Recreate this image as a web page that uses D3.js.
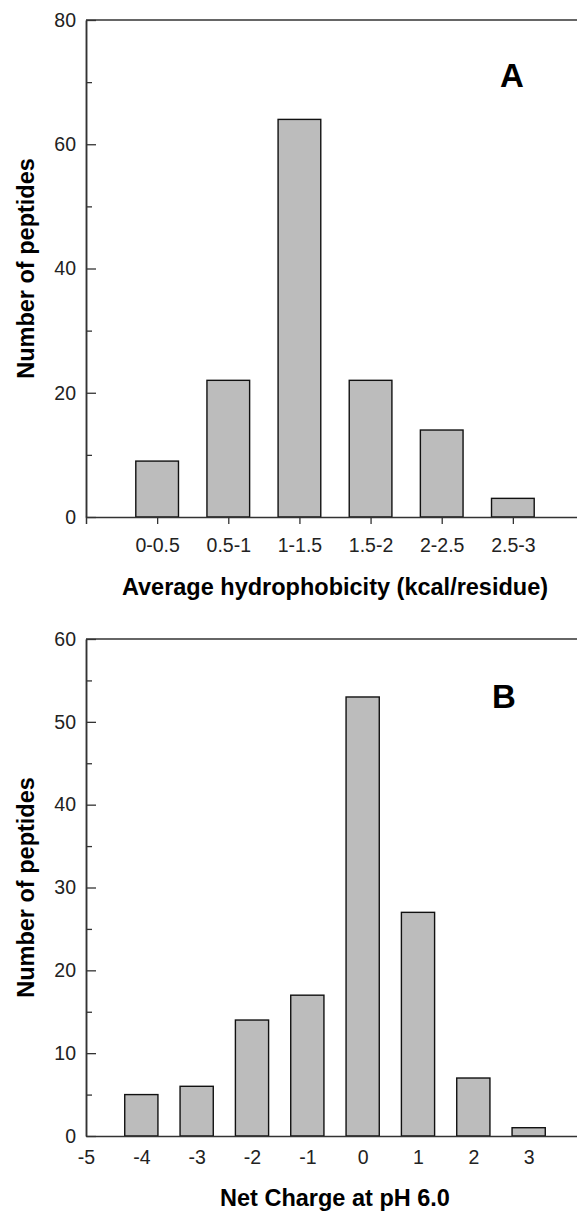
<!DOCTYPE html>
<html>
<head>
<meta charset="utf-8">
<script src="https://cdn.jsdelivr.net/npm/d3@7"></script>
<style>
  body { margin: 0; background: #fff; }
  svg { display: block; font-family: "Liberation Sans", Arial, Helvetica, sans-serif; }
  .domain { stroke: #333; stroke-width: 1.5; }
  .tick line { stroke: #333; stroke-width: 1.3; }
  .tick text { fill: #222; font-size: 19.5px; }
</style>
</head>
<body>
<svg></svg>
<script>
// panel A data
let hydroCats = ["0-0.5", "0.5-1", "1-1.5", "1.5-2", "2-2.5", "2.5-3"];
let hydroCounts = [9, 22, 64, 22, 14, 3];
let hydroYTicks = [0, 20, 40, 60, 80];
let hydroYMinor = [10, 30, 50, 70];

// panel B data
let chargeVals = [-4, -3, -2, -1, 0, 1, 2, 3];
let chargeCounts = [5, 6, 14, 17, 53, 27, 7, 1];
let chargeXTicks = [-5, -4, -3, -2, -1, 0, 1, 2, 3, 4];
let chargeYTicks = [0, 10, 20, 30, 40, 50, 60];
let chargeYMinor = [5, 15, 25, 35, 45, 55];

let width = 577;
let height = 1212;
let svg = d3.select("svg").attr("width", width).attr("height", height);

let left = 86;
let right = 584;   // frame runs past the picture edge

// draws one panel: scales, axes, frame top line, bars, titles
let drawPanel = (p) => {
  let g = svg.append("g");

  let yScale = d3.scaleLinear().domain([0, p.yMax]).range([p.bottom, p.top]);
  let xScale = d3.scaleLinear().domain(p.xDomain).range([left, right]);

  // bars
  let bw = (xScale(1) - xScale(0)) * 0.6;
  g.selectAll("rect")
   .data(p.values)
   .enter()
   .append("rect")
   .attr("x", (d, i) => xScale(p.xPos[i]) - bw / 2)
   .attr("y", (d) => yScale(d))
   .attr("width", bw)
   .attr("height", (d) => yScale(0) - yScale(d))
   .attr("fill", "#bcbcbc")
   .attr("stroke", "#111")
   .attr("stroke-width", 1.4);

  // top frame line
  g.append("line")
   .attr("x1", left).attr("x2", right)
   .attr("y1", yScale(p.yMax)).attr("y2", yScale(p.yMax))
   .attr("stroke", "#333").attr("stroke-width", 1.5);

  // y axis, ticks pointing inward
  g.append("g")
   .attr("transform", "translate(" + left + ",0)")
   .call(d3.axisLeft(yScale).tickValues(p.yMinor).tickSize(-6).tickSizeOuter(0).tickFormat(""));
  g.append("g")
   .attr("transform", "translate(" + left + ",0)")
   .call(d3.axisLeft(yScale).tickValues(p.yTicks).tickSize(-10).tickSizeOuter(0).tickPadding(10));

  // x axis
  let xAxis = d3.axisBottom(xScale)
                .tickValues(p.xTicks)
                .tickSizeOuter(0)
                .tickSize(p.xTickSize)
                .tickPadding(p.xPad)
                .tickFormat(p.xFormat);
  g.append("g")
   .attr("transform", "translate(0," + p.bottom + ")")
   .call(xAxis);

  // axis titles
  g.append("text")
   .attr("x", (left + right) / 2)
   .attr("y", p.titleY)
   .attr("text-anchor", "middle")
   .style("font-size", "23.5px")
   .style("font-weight", "bold")
   .text(p.xTitle);

  g.append("text")
   .attr("transform", "translate(34," + (p.top + p.bottom) / 2 + ") rotate(-90)")
   .attr("text-anchor", "middle")
   .style("font-size", "23.5px")
   .style("font-weight", "bold")
   .text("Number of peptides");

  // panel letter
  g.append("text")
   .attr("x", p.letterX)
   .attr("y", p.letterY)
   .style("font-size", "33px")
   .style("font-weight", "bold")
   .text(p.letter);
};

drawPanel({
  top: 20, bottom: 517, yMax: 80,
  yTicks: hydroYTicks, yMinor: hydroYMinor,
  xDomain: [0, 7],
  xPos: hydroCats.map((c, i) => i + 1),
  xTicks: hydroCats.map((c, i) => i + 1),
  xFormat: (d) => hydroCats[d - 1],
  xTickSize: 7, xPad: 14,
  values: hydroCounts,
  xTitle: "Average hydrophobicity (kcal/residue)", titleY: 595,
  letter: "A", letterX: 500, letterY: 87
});

drawPanel({
  top: 639, bottom: 1136, yMax: 60,
  yTicks: chargeYTicks, yMinor: chargeYMinor,
  xDomain: [-5, 4],
  xPos: chargeVals,
  xTicks: chargeXTicks,
  xFormat: (d) => String(d),
  xTickSize: 0, xPad: 14,
  values: chargeCounts,
  xTitle: "Net Charge at pH 6.0", titleY: 1206,
  letter: "B", letterX: 492, letterY: 708
});
</script>
</body>
</html>
